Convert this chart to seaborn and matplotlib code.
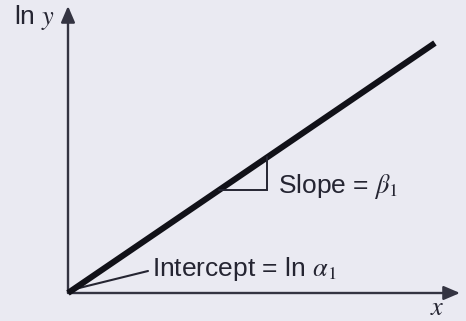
import matplotlib
matplotlib.use("Agg")
import matplotlib.pyplot as plt
from matplotlib.patches import FancyArrowPatch
import seaborn as sns
import pandas as pd

sns.set_theme(style="dark")
plt.rcParams["font.family"] = ["Liberation Sans", "DejaVu Sans"]
plt.rcParams["mathtext.fontset"] = "stix"

# Straight line of ln y against x: intercept ln(alpha1), slope beta1
x_vals = [0.0, 9.36]
lny_vals = [0.0, 8.71]
# slope-triangle span along x
tri_x = [3.85, 5.08]

BG = "#EAEAF2"
INK = "#252532"
AXC = "#343442"

W, H = 466, 321
fig = plt.figure(figsize=(W / 100, H / 100), dpi=100, facecolor=BG)

# axes box: origin at (68, 293) px, arrow tips at x=460 and y=6 px
x0, y0, x1, y1 = 68, 293, 460, 6
ax = fig.add_axes([x0 / W, 1 - y0 / H, (x1 - x0) / W, (y0 - y1) / H])
ax.set_facecolor(BG)
ax.set_xlim(0, 10)
ax.set_ylim(0, 10)
ax.axis("off")

df = pd.DataFrame({"x": x_vals, "lny": lny_vals})
sns.lineplot(data=df, x="x", y="lny", ax=ax, color="#111118", lw=4.4,
             solid_capstyle="butt", clip_on=False)

# slope triangle under the line
slope = (lny_vals[1] - lny_vals[0]) / (x_vals[1] - x_vals[0])
ya = lny_vals[0] + slope * (tri_x[0] - x_vals[0])
yb = lny_vals[0] + slope * (tri_x[1] - x_vals[0])
ax.plot([tri_x[0], tri_x[1], tri_x[1]], [ya, ya, yb], color=INK, lw=1.4,
        solid_joinstyle="miter")

# coordinate axes with arrowheads
for (xa, ya_, xb, yb_) in [(0, 0, 1, 0), (0, 0, 0, 1)]:
    ax.add_patch(FancyArrowPatch((xa, ya_), (xb, yb_), transform=ax.transAxes,
                                 arrowstyle="-|>,head_length=0.7,head_width=0.3",
                                 mutation_scale=14, lw=1.7,
                                 color=AXC, shrinkA=0, shrinkB=0, clip_on=False))


def px(x, y):
    return x / W, 1 - y / H


# leader from the intercept label to the origin
ax.add_patch(FancyArrowPatch(px(148, 271), px(71, 290), transform=fig.transFigure,
                             arrowstyle="-", lw=1.5, color=INK, shrinkA=0, shrinkB=0))

fs = 19
fig.text(*px(152, 269), r"Intercept = ln $\alpha_1$", fontsize=fs, color=INK,
         ha="left", va="center")
fig.text(*px(278, 187), r"Slope = $\beta_1$", fontsize=fs, color=INK,
         ha="left", va="center")
fig.text(*px(14, 18), r"ln $y$", fontsize=fs, color=INK, ha="left", va="center")
fig.text(*px(437, 308), r"$x$", fontsize=fs, color=INK, ha="center", va="center")

fig.savefig("out.png", dpi=100, facecolor=BG)
